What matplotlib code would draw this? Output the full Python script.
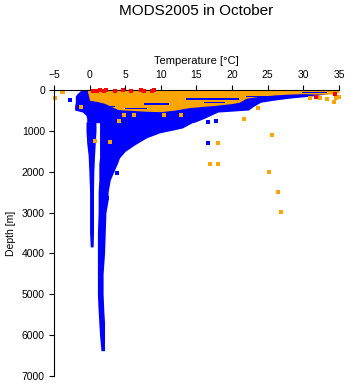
import matplotlib
matplotlib.use("Agg")
import matplotlib.pyplot as plt

plt.rcParams['font.family'] = ['Liberation Sans', 'DejaVu Sans']

BLUE = '#0000FF'
ORANGE = '#FFA500'
RED = '#FF0000'

# Main blue envelope: depth [m] with coldest / warmest temperature [°C]
main_depth = [0, 50, 100, 150, 200, 250, 300, 400, 490, 540, 620, 700, 790,
              800, 930, 980, 1050, 1170, 1345, 1500, 1660, 1800, 2000, 2200,
              2500, 2700, 3000, 3500, 4000, 4500, 5000, 5400, 5700, 6000, 6380]
main_tmin = [-1.2, -1.5, -1.8, -2.0, -2.0, -2.0, -2.0, -2.1, -2.1, -1.0, -0.5, -0.4, -0.4,
             1.4, 1.4, 1.4, 1.4, 1.4, 1.4, 1.4, 1.4, 1.3, 1.3, 1.3,
             1.2, 1.2, 1.2, 1.1, 1.1, 1.1, 1.1, 1.2, 1.3, 1.4, 1.6]
main_tmax = [35.0, 34.6, 33.0, 31.0, 28.0, 25.8, 24.0, 23.0, 22.3, 18.0, 17.0, 16.0, 14.7,
             14.4, 13.0, 11.7, 9.8, 8.0, 6.3, 5.0, 4.2, 3.9, 3.4, 2.9,
             2.6, 2.6, 2.3, 2.2, 2.1, 1.9, 1.9, 2.0, 2.1, 2.1, 2.1]

# Cold deep column
cold_depth = [780, 1000, 1300, 1600, 2000, 2500, 3000, 3500, 3840]
cold_tmin = [-0.5, -0.5, -0.4, -0.2, -0.1, 0.0, 0.0, 0.0, 0.1]
cold_tmax = [0.9, 0.9, 0.8, 0.7, 0.6, 0.55, 0.55, 0.55, 0.5]

# Warm surface layer (orange): temperature and deepest depth reached
warm_temp = [-0.3, 0, 1, 2, 3, 4, 6, 8, 10, 12, 14, 16, 18, 20, 21, 22, 24, 26, 28, 30, 32, 34, 35]
warm_bottom = [30, 250, 280, 320, 400, 480, 500, 520, 530, 490, 430, 400, 370, 330, 300,
               200, 150, 120, 100, 90, 100, 100, 60]

# Blue streaks inside the surface layer: (t0, t1, depth top, depth bottom)
band_t0 = [26.0, 29.8, 13.6, 7.6, 1.0, 22.0, 16.0, 5.0]
band_t1 = [33.7, 33.3, 21.0, 11.2, 3.5, 25.5, 19.0, 8.0]
band_top = [0, 50, 205, 325, 385, 135, 285, 440]
band_bot = [15, 80, 245, 360, 415, 175, 315, 465]

# Isolated stations
orange_t = [-4.8, -3.7, -3.9, -1.2, 0.7, 2.8, 4.2, 4.9, 6.2, 10.4, 12.8, 16.9, 18.0, 18.0,
            21.7, 23.7, 25.6, 25.2, 26.4, 26.9, 30.9, 32.3, 33.3, 34.3, 34.6, 35.0]
orange_d = [200, 60, 40, 420, 1260, 1280, 770, 610, 610, 610, 610, 1820, 1820, 1300,
            715, 450, 1110, 2000, 2500, 2990, 200, 200, 210, 285, 200, 180]

blue_t = [-2.8, 16.6, 16.6, 17.8, 3.8, 2.5]
blue_d = [245, 1300, 790, 760, 2040, 2650]

red_t = [0.5, 1.0, 1.5, 2.0, 2.3, 3.5, 4.7, 5.8, 7.2, 7.6, 8.7, 9.0, 31.8, 34.5]
red_d = [20, 20, 10, 30, 10, 20, 10, 20, 10, 30, 20, 10, 160, 90]

fig = plt.figure(figsize=(3.48, 3.84), dpi=100)
ax = fig.add_axes([0.155, 0.0208, 0.819, 0.7448])

ax.fill_betweenx(main_depth, main_tmin, main_tmax, color=BLUE, lw=0, antialiased=False)
ax.fill_betweenx(cold_depth, cold_tmin, cold_tmax, color=BLUE, lw=0, antialiased=False)
ax.fill_between(warm_temp, [0] * len(warm_temp), warm_bottom, color=ORANGE, lw=0,
                antialiased=False)
for t0, t1, d0, d1 in zip(band_t0, band_t1, band_top, band_bot):
    ax.fill_between([t0, t1], [d0, d0], [d1, d1], color=BLUE, lw=0, antialiased=False)

ms = 6
ax.scatter(orange_t, orange_d, s=ms, marker='s', color=ORANGE, lw=0, clip_on=False)
ax.scatter(blue_t, blue_d, s=ms, marker='s', color=BLUE, lw=0, clip_on=False)
ax.scatter(red_t, red_d, s=ms, marker='s', color=RED, lw=0, clip_on=False, zorder=3)

ax.set_xlim(-5, 35)
ax.set_ylim(7000, 0)
ax.set_xticks(range(-5, 36, 5))
ax.set_yticks(range(0, 7001, 1000))
ax.xaxis.tick_top()
ax.xaxis.set_label_position('top')
for side in ('right', 'bottom'):
    ax.spines[side].set_visible(False)
for side in ('left', 'top'):
    ax.spines[side].set_linewidth(0.8)
ax.tick_params(axis='both', direction='out', length=3.5, width=0.8, labelsize=7.5, pad=3)
ax.tick_params(axis='x', pad=4)
ax.set_xlabel('Temperature [°C]', fontsize=8, labelpad=4)
ax.set_ylabel('Depth [m]', fontsize=7.5, labelpad=4)
fig.text(0.565, 0.99, 'MODS2005 in October', ha='center', va='top', fontsize=11)

fig.savefig('out.png', dpi=100)
